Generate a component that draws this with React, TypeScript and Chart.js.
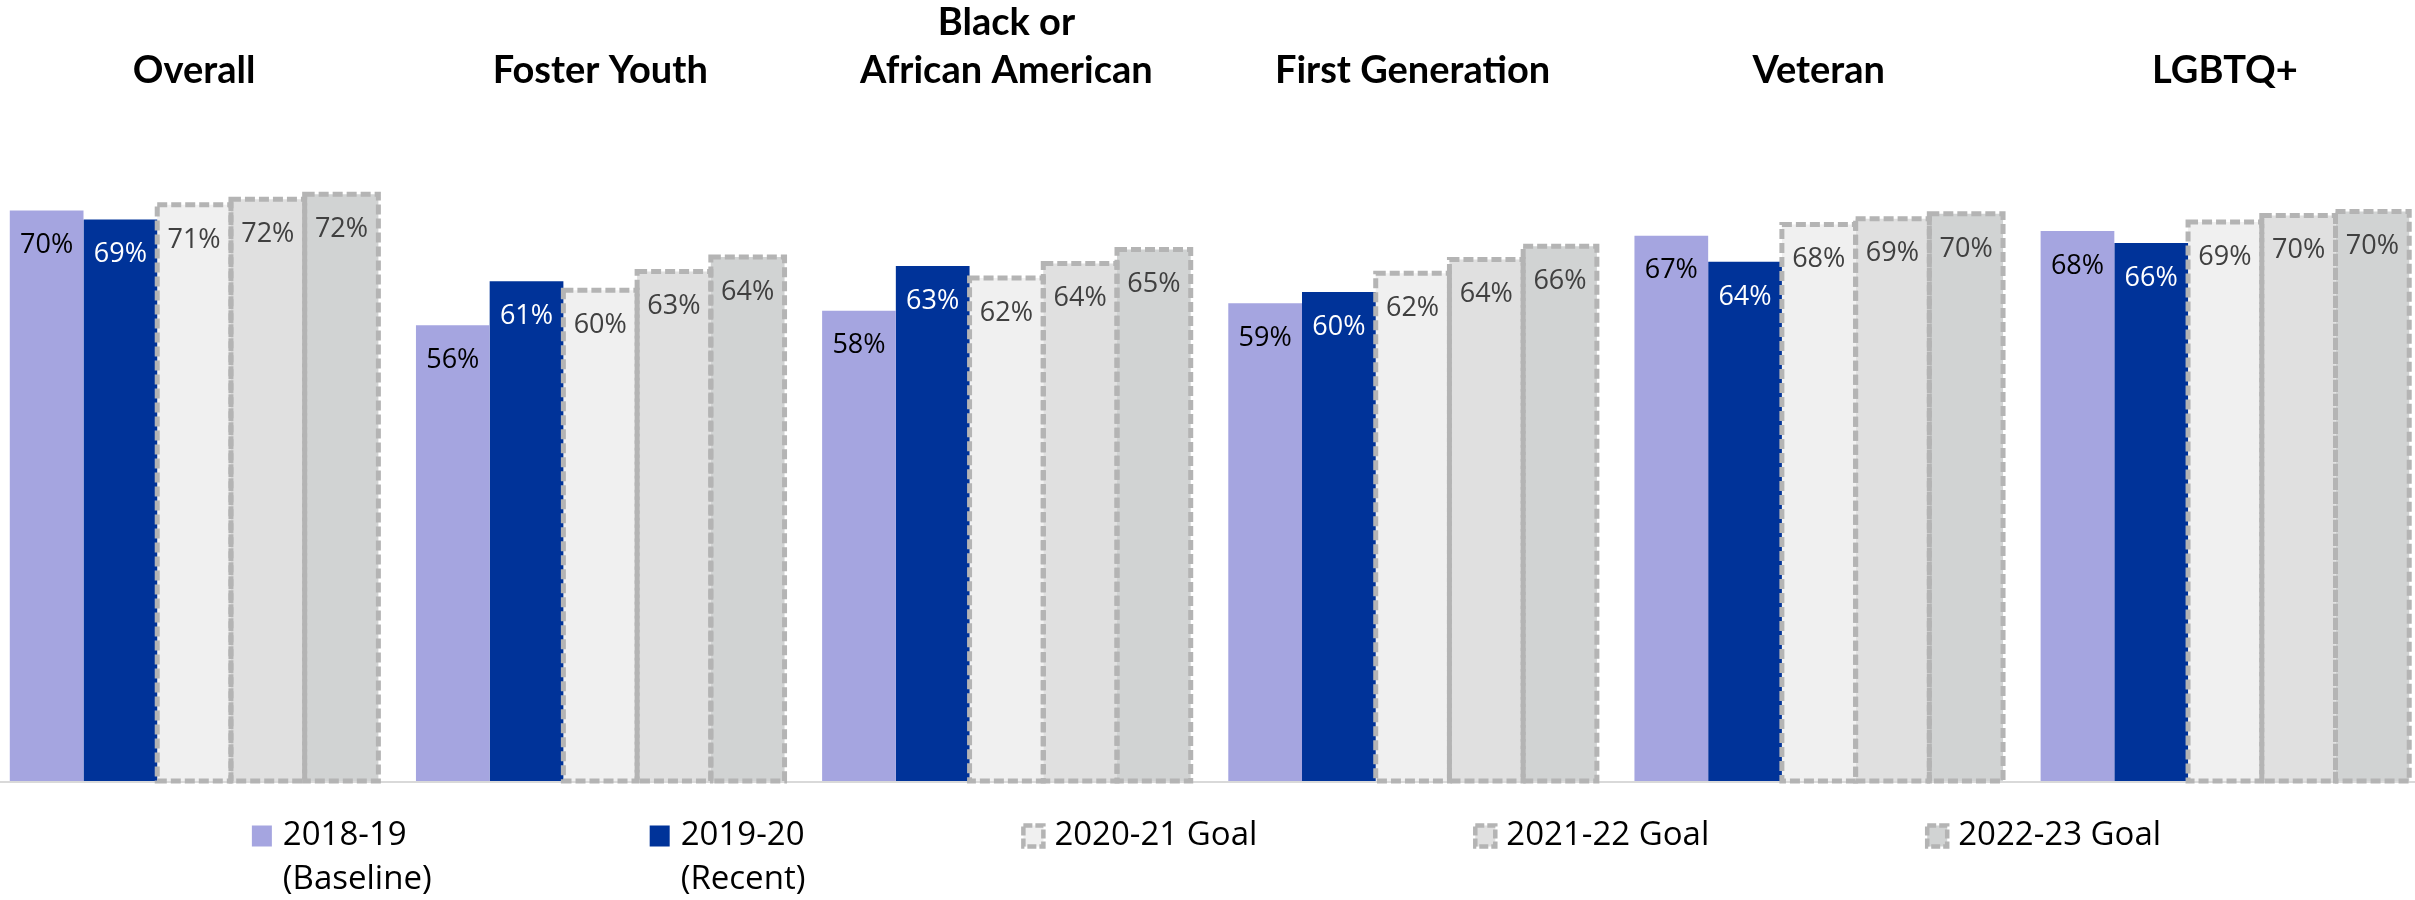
import React, { useEffect, useRef } from "react";
import { Chart, registerables } from "chart.js";

Chart.register(...registerables);

// ---- data ----
const categories: string[][] = [
  ["Overall"],
  ["Foster Youth"],
  ["Black or", "African American"],
  ["First Generation"],
  ["Veteran"],
  ["LGBTQ+"],
];
const baseline1819 = [70.1, 56.0, 57.8, 58.7, 67.0, 67.6];
const recent1920 = [69.0, 61.4, 63.3, 60.1, 63.8, 66.1];
const goal2021 = [70.8, 60.3, 61.8, 62.4, 68.4, 68.7];
const goal2122 = [71.5, 62.6, 63.6, 64.1, 69.1, 69.5];
const goal2223 = [72.1, 64.4, 65.3, 65.7, 69.7, 70.0];
const seriesLegend: string[][] = [
  ["2018-19", "(Baseline)"],
  ["2019-20", "(Recent)"],
  ["2020-21 Goal"],
  ["2021-22 Goal"],
  ["2022-23 Goal"],
];

// ---- styles ----
const fills = ["#A5A5E0", "#003399", "#F0F0F0", "#E0E0E0", "#D1D3D3"];
const labelColors = ["#000000", "#FFFFFF", "#404040", "#404040", "#404040"];
const dashedFlags = [false, false, true, true, true];
const DASH_COLOR = "#B4B4B4";

const baselinePlugin = {
  id: "baselineLine",
  beforeDatasetsDraw(chart: any) {
    const { ctx, chartArea } = chart;
    ctx.save();
    ctx.strokeStyle = "#D9D9D9";
    ctx.lineWidth = 2;
    ctx.beginPath();
    ctx.moveTo(0, chartArea.bottom + 1);
    ctx.lineTo(chart.width, chartArea.bottom + 1);
    ctx.stroke();
    ctx.restore();
  },
};

const dashedBorderPlugin = {
  id: "dashedBorders",
  afterDatasetsDraw(chart: any) {
    const { ctx } = chart;
    ctx.save();
    ctx.strokeStyle = DASH_COLOR;
    ctx.lineWidth = 5;
    ctx.setLineDash([10, 4]);
    chart.data.datasets.forEach((ds: any, i: number) => {
      if (!ds.dashed) return;
      const meta = chart.getDatasetMeta(i);
      meta.data.forEach((bar: any) => {
        const p = bar.getProps(["x", "y", "base", "width"], true);
        ctx.strokeRect(p.x - p.width / 2, p.y, p.width, p.base - p.y);
      });
    });
    ctx.restore();
  },
};

const valueLabelPlugin = {
  id: "valueLabels",
  afterDatasetsDraw(chart: any) {
    const { ctx } = chart;
    ctx.save();
    ctx.font = '27px "Open Sans"';
    ctx.textAlign = "center";
    ctx.textBaseline = "middle";
    chart.data.datasets.forEach((ds: any, i: number) => {
      const meta = chart.getDatasetMeta(i);
      meta.data.forEach((bar: any, j: number) => {
        const p = bar.getProps(["x", "y"], true);
        ctx.fillStyle = ds.labelColor;
        ctx.fillText(Math.round(ds.data[j]) + "%", p.x, p.y + 35);
      });
    });
    ctx.restore();
  },
};

const legendPlugin = {
  id: "customLegend",
  afterDraw(chart: any) {
    const { ctx, chartArea } = chart;
    const BOX_W = 20;
    const BOX_H = 21;
    const TEXT_GAP = 11;
    const ITEM_GAP = 218;
    const LINE_H = 44;
    ctx.save();
    ctx.font = '33px "Open Sans"';
    ctx.textBaseline = "middle";
    ctx.textAlign = "left";
    const ds = chart.data.datasets;
    const widths = ds.map(
      (d: any) =>
        BOX_W + TEXT_GAP + Math.max(...d.legendLines.map((l: string) => ctx.measureText(l).width))
    );
    const total = widths.reduce((a: number, b: number) => a + b, 0) + ITEM_GAP * (ds.length - 1);
    let x = chart.width / 2 - 3 - total / 2;
    const y0 = chartArea.bottom + 55;
    ds.forEach((d: any, i: number) => {
      const bx = x;
      const by = y0 - BOX_H / 2;
      ctx.fillStyle = d.backgroundColor;
      ctx.fillRect(bx, by, BOX_W, BOX_H);
      if (d.dashed) {
        ctx.save();
        ctx.strokeStyle = DASH_COLOR;
        ctx.lineWidth = 4.5;
        ctx.setLineDash([9, 3]);
        ctx.strokeRect(bx, by, BOX_W, BOX_H);
        ctx.restore();
      }
      ctx.fillStyle = "#000000";
      d.legendLines.forEach((line: string, k: number) => {
        ctx.fillText(line, bx + BOX_W + TEXT_GAP, y0 + k * LINE_H);
      });
      x += widths[i] + ITEM_GAP;
    });
    ctx.restore();
  },
};

export default function App() {
  const canvasRef = useRef<HTMLCanvasElement | null>(null);

  useEffect(() => {
    const canvas = canvasRef.current;
    if (!canvas) return;
    const seriesValues = [baseline1819, recent1920, goal2021, goal2122, goal2223];
    const chart = new Chart(canvas, {
      type: "bar",
      data: {
        labels: categories,
        datasets: seriesValues.map((vals, i) => ({
          label: seriesLegend[i].join(" "),
          data: vals,
          backgroundColor: fills[i],
          borderWidth: 0,
          barPercentage: 1,
          categoryPercentage: 0.9075,
          dashed: dashedFlags[i],
          labelColor: labelColors[i],
          legendLines: seriesLegend[i],
        })) as any,
      },
      options: {
        responsive: false,
        animation: false,
        devicePixelRatio: 1,
        layout: { padding: { top: 0, bottom: 119, left: 0, right: 0 } },
        plugins: {
          legend: { display: false },
          tooltip: { enabled: false },
        },
        scales: {
          x: {
            position: "top",
            grid: { display: false },
            border: { display: false },
            ticks: {
              color: "#000000",
              font: { family: "Lato", weight: "bold", size: 38, lineHeight: 48 / 38 },
              padding: 27,
              maxRotation: 0,
              autoSkip: false,
            },
          },
          y: { display: false, min: 0, max: 80 },
        },
      },
      plugins: [baselinePlugin, dashedBorderPlugin, valueLabelPlugin, legendPlugin],
    });
    return () => chart.destroy();
  }, []);

  return (
    <div
      style={{
        position: "absolute",
        left: 0,
        top: 0,
        width: 2415,
        height: 900,
        overflow: "hidden",
        background: "#ffffff",
      }}
    >
      <canvas
        ref={canvasRef}
        width={2437}
        height={928}
        style={{ position: "absolute", left: -9, top: -28, display: "block" }}
      />
    </div>
  );
}
